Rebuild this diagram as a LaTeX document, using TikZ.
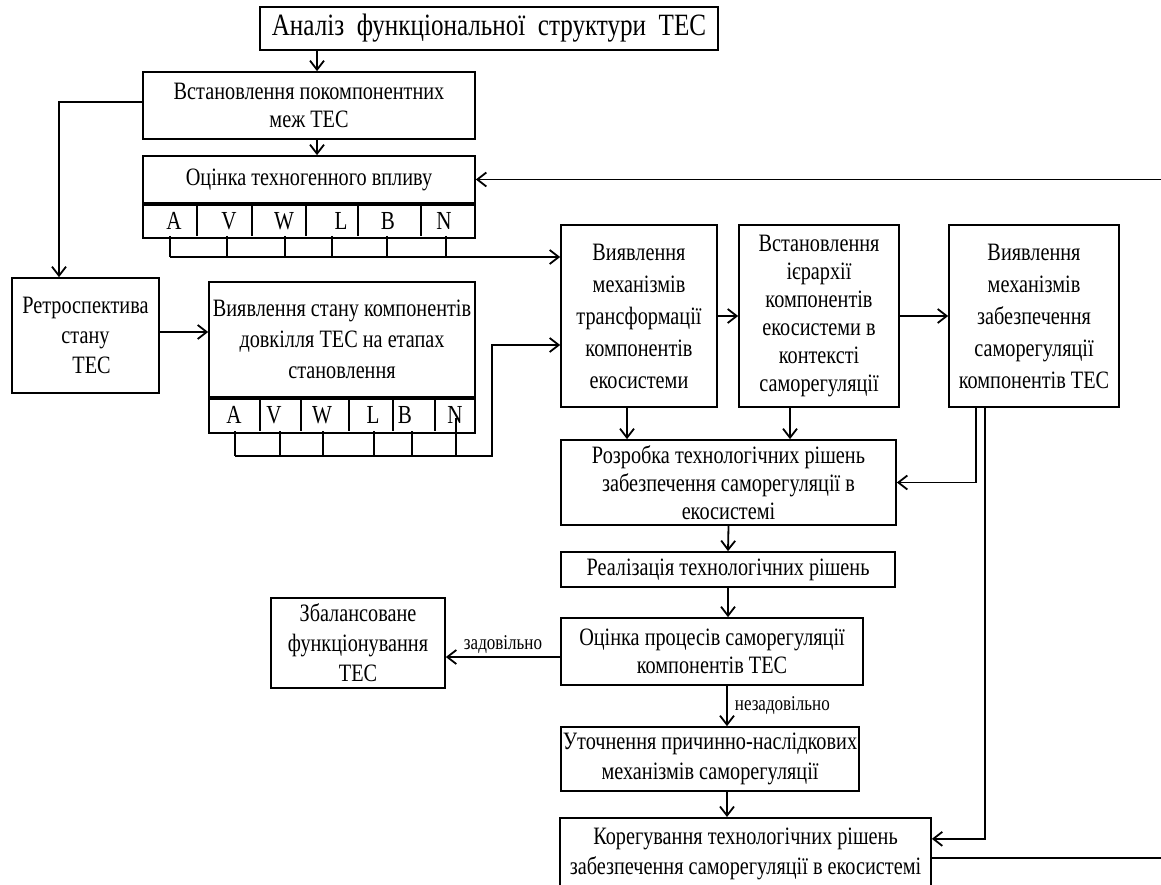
\documentclass[tikz,border=0pt]{standalone}
\usepackage{fontspec}
\setmainfont{Liberation Serif}[FakeStretch=0.81]
\usetikzlibrary{arrows.meta}

\tikzset{
  box/.style={draw, line width=1.7pt, align=center, inner sep=0pt,
    font=\fontsize{25}{28}\selectfont},
  widebox/.style={box, font=\fontsize{25}{32}\selectfont},
  arr/.style={line width=1.8pt, -{Straight Barb[length=9pt,width=14pt,line width=1.8pt]}},
  cell/.style={line width=1.7pt},
  letter/.style={inner sep=0pt, font=\fontsize{26}{28}\selectfont},
  verdict/.style={inner sep=3pt, font=\fontsize{21}{24}\selectfont}
}

\begin{document}
\begin{tikzpicture}[x=1pt,y=-1pt]
\useasboundingbox (0,0) rectangle (1161,885);

% upper chain
\node[box, font=\fontsize{31}{34}\selectfont, minimum width=458, minimum height=43] (title) at (489,28.5) {Аналіз~ функціональної~ структури~ ТЕС};
\node[box, minimum width=332, minimum height=67] (limits) at (309,105.5) {Встановлення покомпонентних\\меж ТЕС};
\node[box, minimum width=332, minimum height=47] (impact) at (309,179.5) {Оцінка техногенного впливу};
\node[box, minimum width=332, minimum height=33, anchor=north] (impactrow) at (impact.south) {};
\node[box, font=\fontsize{25}{30}\selectfont, minimum width=147, minimum height=115] (retro) at (85.5,335.5) {Ретроспектива\\стану\\\hspace*{12pt}ТЕС};
\node[box, font=\fontsize{25}{31}\selectfont, minimum width=266, minimum height=115] (state) at (342,339.5) {Виявлення стану компонентів\\довкілля ТЕС на етапах\\становлення};
\node[box, minimum width=266, minimum height=34, anchor=north] (staterow) at (state.south) {};

% component letters
\foreach \l/\x in {A/174,V/229,W/284,L/341,B/388,N/444}
  \node[letter] (i\l) at (\x,221) {\l};
\foreach \x in {197,252,306,358,421}
  \draw[cell] (\x,203) -- (\x,236);
\foreach \l/\x in {A/234,V/274,W/322,L/373,B/405,N/455}
  \node[letter] (s\l) at (\x,415) {\l};
\foreach \x in {260,301,349,393,435}
  \draw[cell] (\x,397) -- (\x,431);

% middle row
\node[widebox, minimum width=156, minimum height=182] (transf) at (639,316) {Виявлення\\механізмів\\трансформації\\компонентів\\екосистеми};
\node[box, minimum width=160, minimum height=182] (hier) at (819,316) {Встановлення\\ієрархії\\компонентів\\екосистеми в\\контексті\\саморегуляції};
\node[widebox, minimum width=170, minimum height=182] (ensure) at (1034,316) {Виявлення\\механізмів\\забезпечення\\саморегуляції\\компонентів ТЕС};

% lower chain
\node[box, minimum width=335, minimum height=85] (dev) at (728.5,482.5) {Розробка технологічних рішень\\забезпечення саморегуляції в\\екосистемі};
\node[box, minimum width=334, minimum height=35] (impl) at (728,569.5) {Реалізація технологічних рішень};
\node[box, minimum width=302, minimum height=67] (eval) at (712,651.5) {Оцінка процесів саморегуляції\\компонентів ТЕС};
\node[box, font=\fontsize{25}{30}\selectfont, minimum width=174, minimum height=90] (balance) at (358,643) {Збалансоване\\функціонування\\ТЕС};
\node[box, font=\fontsize{25}{30}\selectfont, minimum width=298, minimum height=64] (refine) at (710,759) {Уточнення причинно-наслідкових\\механізмів саморегуляції};
\node[box, font=\fontsize{25}{30}\selectfont, minimum width=371, minimum height=96, anchor=north] (correct) at (745.5,817) {Корегування технологічних рішень\\забезпечення саморегуляції в екосистемі\\\mbox{}};

% buses under the letter rows
\foreach \x in {170,227,285,332,387,446}
  \draw[cell] (\x,236) -- (\x,257);
\coordinate (ibus) at (170,257);
\draw[arr] (ibus) -- (ibus -| transf.west);
\foreach \x in {235,280,323,374,412}
  \draw[cell] (\x,431) -- (\x,456);
\draw[cell] (456,418) -- (456,456);
\coordinate (sbus) at (235,456);
\coordinate (sturn) at (492,345);
\draw[arr] (sbus) -| (sturn) -- (sturn -| transf.west);

% connectors
\draw[arr] ([xshift=8pt]title.south -| limits.north) -- ([xshift=8pt]limits.north);
\draw[arr] ([xshift=8pt]limits.south) -- ([xshift=8pt]impact.north);
\draw[arr] ([yshift=3.5pt]limits.west) -| ([xshift=-26.5pt]retro.north);
\draw[arr] ([yshift=3.5pt]retro.east) -- ([yshift=3.5pt]retro.east -| state.west);
\draw[arr] (transf) -- (hier);
\draw[arr] (hier) -- (ensure);
\draw[arr] ([xshift=-12pt]transf.south) -- ([xshift=-12pt]transf.south |- dev.north);
\draw[arr] ([xshift=-29pt]hier.south) -- ([xshift=-29pt]hier.south |- dev.north);
\draw[arr] ([xshift=-58pt]ensure.south) |- (dev.east);
\draw[arr] ([xshift=-49pt]ensure.south) |- ([yshift=27pt]correct.east);
\draw[arr] (dev.south) -- (impl.north);
\draw[arr] (impl.south) -- (impl.south |- eval.north);
\draw[arr] ([yshift=-5.5pt]eval.west) -- ([yshift=-5.5pt]eval.west -| balance.east)
  node[verdict, midway, above] (ok) {задовільно};
\draw[arr] ([xshift=15pt]eval.south) -- ([xshift=15pt]eval.south |- refine.north)
  node[verdict, midway, right, xshift=4pt] (notok) {незадовільно};
\draw[arr] ([xshift=17pt]refine.south) -- ([xshift=17pt]refine.south |- correct.north);
\draw[arr] ([yshift=8pt]correct.east) -- ++(231,0) |- (impact.east);
\end{tikzpicture}
\end{document}
